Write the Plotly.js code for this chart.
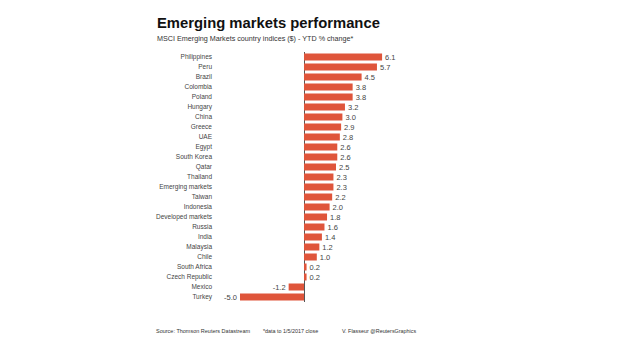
<!DOCTYPE html>
<html><head><meta charset="utf-8">
<script src="https://cdn.plot.ly/plotly-3.0.1.min.js"></script>
<style>html,body{margin:0;padding:0;background:#fff;}#chart{width:620px;height:355px;}</style>
</head><body><div id="chart"></div>
<script>
const countries = ["Philippines","Peru","Brazil","Colombia","Poland","Hungary","China","Greece","UAE","Egypt","South Korea","Qatar","Thailand","Emerging markets","Taiwan","Indonesia","Developed markets","Russia","India","Malaysia","Chile","South Africa","Czech Republic","Mexico","Turkey"];
const ytdChange = [6.1,5.7,4.5,3.8,3.8,3.2,3.0,2.9,2.8,2.6,2.6,2.5,2.3,2.3,2.2,2.0,1.8,1.6,1.4,1.2,1.0,0.2,0.2,-1.2,-5.0];
const titleText = "Emerging markets performance";
const subtitleText = "MSCI Emerging Markets country indices ($) - YTD % change*";
const footerTexts = ["Source: Thomson Reuters Datastream","*data to 1/5/2017 close","V. Flasseur @ReutersGraphics"];

const W = 620, H = 355;
const trace = {
  type: 'bar', orientation: 'h',
  x: ytdChange, y: countries,
  marker: {color: '#DF553B'},
  text: ytdChange.map(v => v.toFixed(1)),
  textposition: 'outside',
  constraintext: 'none',
  cliponaxis: false,
  textfont: {family: 'Liberation Sans, Arial, sans-serif', size: 7.5, color: '#444'},
  hoverinfo: 'none'
};
const layout = {
  width: W, height: H,
  margin: {l: 0, r: 0, t: 0, b: 0},
  paper_bgcolor: '#fff', plot_bgcolor: '#fff',
  showlegend: false,
  bargap: 0.3,
  font: {family: 'Liberation Sans, Arial, sans-serif', color: '#333'},
  xaxis: {
    domain: [215/W, 420/W],
    range: [-(304-215)/12.8, (420-304)/12.8],
    showgrid: false, showticklabels: false, ticks: '',
    zeroline: true, zerolinecolor: '#555', zerolinewidth: 1,
    showline: false, fixedrange: true
  },
  yaxis: {
    domain: [1 - 302/H, 1 - 52/H],
    type: 'category',
    autorange: 'reversed',
    showgrid: false, zeroline: false, showline: false, ticks: '',
    tickfont: {size: 6.5, color: '#444'},
    ticklabelstandoff: 2,
    fixedrange: true
  },
  title: {
    text: '<b>' + titleText + '</b>',
    x: 157/W, xanchor: 'left', xref: 'paper',
    y: 1 - 23/H, yanchor: 'middle', yref: 'paper',
    font: {size: 14.8, color: '#111', family: 'Liberation Sans, Arial, sans-serif'}
  },
  annotations: [
    {text: subtitleText, xref: 'paper', yref: 'paper', x: 155/W, y: 1 - 39/H, xanchor: 'left', yanchor: 'middle', showarrow: false, font: {size: 7.2, color: '#333'}},
    {text: footerTexts[0], xref: 'paper', yref: 'paper', x: 154/W, y: 1 - 331/H, xanchor: 'left', yanchor: 'middle', showarrow: false, font: {size: 5.5, color: '#333'}},
    {text: footerTexts[1], xref: 'paper', yref: 'paper', x: 261/W, y: 1 - 331/H, xanchor: 'left', yanchor: 'middle', showarrow: false, font: {size: 5.4, color: '#333'}},
    {text: footerTexts[2], xref: 'paper', yref: 'paper', x: 340/W, y: 1 - 331/H, xanchor: 'left', yanchor: 'middle', showarrow: false, font: {size: 5.4, color: '#333'}}
  ]
};
Plotly.newPlot('chart', [trace], layout, {displayModeBar: false, staticPlot: true});
</script></body></html>
